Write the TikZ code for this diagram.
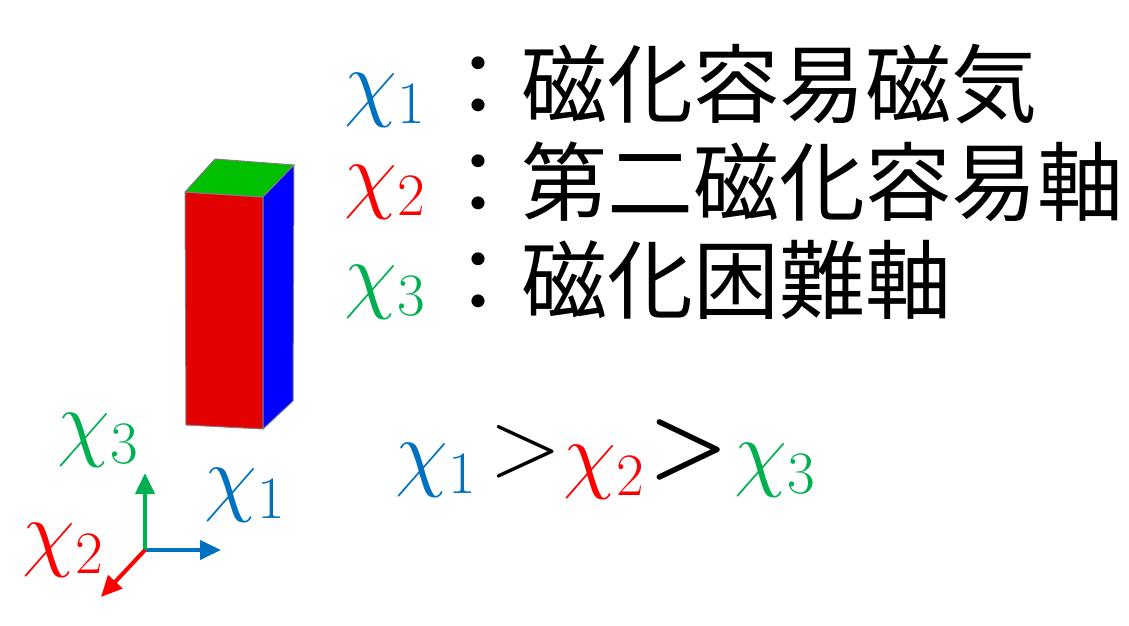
\documentclass[tikz,border=0pt]{standalone}
\usepackage{fix-cm}
\usepackage{fontspec}
\usetikzlibrary{arrows.meta}
\newfontfamily\jpfont{Noto Sans CJK JP}
\definecolor{chiblue}{HTML}{0070C0}
\definecolor{chired}{HTML}{FF0000}
\definecolor{chigreen}{HTML}{00B050}
\definecolor{facered}{HTML}{E30000}
\definecolor{facegreen}{HTML}{00C000}
\definecolor{faceblue}{HTML}{0000FF}
\definecolor{edgegray}{HTML}{808080}

\begin{document}
\begin{tikzpicture}[
  x=1pt, y=-1pt,
  >={Triangle[length=21pt,width=19pt]},
  face/.style={draw=edgegray, line width=1pt, line join=round},
  axis/.style={->, line width=4pt},
  sym/.style={inner sep=0pt, font=\fontsize{86}{86}\selectfont},
  rel/.style={inner sep=0pt, font=\fontsize{95}{95}\selectfont},
  boldrel/.style={inner sep=0pt, font={\fontsize{90}{90}\selectfont\boldmath}},
  desc/.style={anchor=base west, inner sep=0pt, font=\fontsize{86}{100}\selectfont\jpfont}
]
  \useasboundingbox (0,0) rectangle (1129,626);

  % prism
  \coordinate (ftl) at (185,192);
  \coordinate (ftr) at (263,197);
  \coordinate (fbr) at (263,429);
  \coordinate (fbl) at (186,425);
  \coordinate (btl) at (215,159);
  \coordinate (btr) at (294,165);
  \coordinate (bbr) at (293,401);
  \filldraw[face, fill=facered] (ftl) -- (ftr) -- (fbr) -- (fbl) -- cycle;
  \filldraw[face, fill=facegreen] (ftl) -- (ftr) -- (btr) -- (btl) -- cycle;
  \filldraw[face, fill=faceblue] (ftr) -- (btr) -- (bbr) -- (fbr) -- cycle;

  % axes
  \coordinate (o) at (145,550);
  \coordinate (e1) at (221,550);
  \coordinate (e2) at (101,597);
  \coordinate (e3) at (145,473);
  \draw[axis, chiblue] (o) -- (e1);
  \draw[axis, chigreen] (o) -- (e3);
  \draw[axis, chired] (o) -- (e2);
  \node[sym, text=chiblue] (a1) at (245,495) {$\chi_1$};
  \node[sym, text=chired] (a2) at (63,550) {$\chi_2$};
  \node[sym, text=chigreen] (a3) at (98,440) {$\chi_3$};

  % legend
  \node[sym, text=chiblue] (c1) at (385,100) {$\chi_1$};
  \node[sym, text=chired] (c2) at (385,192) {$\chi_2$};
  \node[sym, text=chigreen] (c3) at (385,292) {$\chi_3$};
  \node[desc] (t1) at (435,116) {：磁化容易磁気};
  \node[desc] (t2) at (435,214) {：第二磁化容易軸};
  \node[desc] (t3) at (435,312) {：磁化困難軸};

  % ordering
  \node[sym, text=chiblue] (r1) at (436,470) {$\chi_1$};
  \node[rel] (g1) at (526,452) {$>$};
  \node[sym, text=chired] (r2) at (604,472) {$\chi_2$};
  \node[boldrel] (g2) at (689,450) {$>$};
  \node[sym, text=chigreen] (r3) at (775,470) {$\chi_3$};
\end{tikzpicture}
\end{document}
